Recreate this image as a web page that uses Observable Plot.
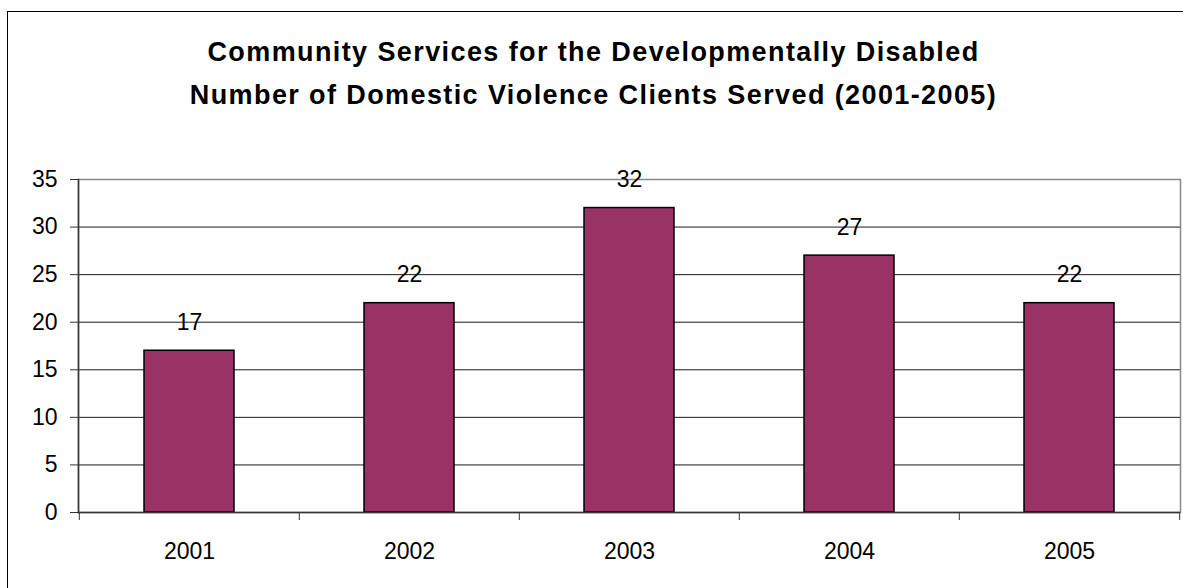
<!DOCTYPE html>
<html>
<head>
<meta charset="utf-8">
<script src="https://cdn.jsdelivr.net/npm/d3@7"></script>
<script src="https://cdn.jsdelivr.net/npm/@observablehq/plot@0.6"></script>
<style>
  html, body { margin: 0; padding: 0; background: #fff; }
  #wrap { position: relative; width: 1183px; height: 588px; overflow: hidden; font-family: "Liberation Sans", Arial, sans-serif; }
  #border { position: absolute; left: 7px; top: 11px; width: 1300px; height: 700px; border: 1.5px solid #000; box-sizing: border-box; }
  #title { position: absolute; left: 0; width: 1183px; top: 31px; text-align: center; font-weight: bold; font-size: 27px; letter-spacing: 1.4px; line-height: 43px; color: #000; padding-left: 4px; box-sizing: border-box; }
  #chart { position: absolute; left: 0; top: 140px; }
</style>
</head>
<body>
<div id="wrap">
  <div id="border"></div>
  <div id="title">Community Services for the Developmentally Disabled<br>Number of Domestic Violence Clients Served (2001-2005)</div>
  <div id="chart"></div>
</div>
<script>
const years = ["2001", "2002", "2003", "2004", "2005"];
const clients = [17, 22, 32, 27, 22];
const yTicks = [0, 5, 10, 15, 20, 25, 30, 35];

const data = years.map((y, i) => ({year: y, value: clients[i]}));

const chart = Plot.plot({
  width: 1183,
  height: 448,
  marginLeft: 78,
  marginRight: 3,
  marginTop: 39,
  marginBottom: 76,
  style: {fontFamily: "Liberation Sans, Arial, sans-serif", fontSize: "23px", color: "#000", background: "transparent"},
  x: {domain: years, paddingInner: 0.59, paddingOuter: 0.295, label: null},
  y: {domain: [0, 35], label: null},
  marks: [
    Plot.gridY(yTicks, {stroke: "#000", strokeOpacity: 0.9, strokeWidth: 1}),
    Plot.frame({stroke: "#888", strokeWidth: 1.5}),
    Plot.barY(data, {x: "year", y: "value", fill: "#993366", stroke: "#000", strokeWidth: 1.5}),
    Plot.frame({anchor: "left", stroke: "#333", strokeWidth: 1.5}),
    Plot.ruleY([0], {stroke: "#333", strokeWidth: 1.5}),
    Plot.ruleX(years, {x: d => d, y1: () => 0, y2: () => 0, insetBottom: -8, dx: -110.2, stroke: "#333", strokeWidth: 1}),
    Plot.ruleX(years.slice(-1), {x: d => d, y1: () => 0, y2: () => 0, insetBottom: -8, dx: 110.2, stroke: "#333", strokeWidth: 1}),
    Plot.axisY(yTicks, {tickSize: 8, tickPadding: 13, fontSize: 23, stroke: "#333", label: null}),
    Plot.axisX({tickSize: 0, tickPadding: 30, fontSize: 23, label: null}),
    Plot.text(data, {x: "year", y: "value", text: d => String(d.value), lineAnchor: "bottom", dy: -21, fontSize: 23, fill: "#000"})
  ]
});
document.getElementById("chart").appendChild(chart);
</script>
</body>
</html>
